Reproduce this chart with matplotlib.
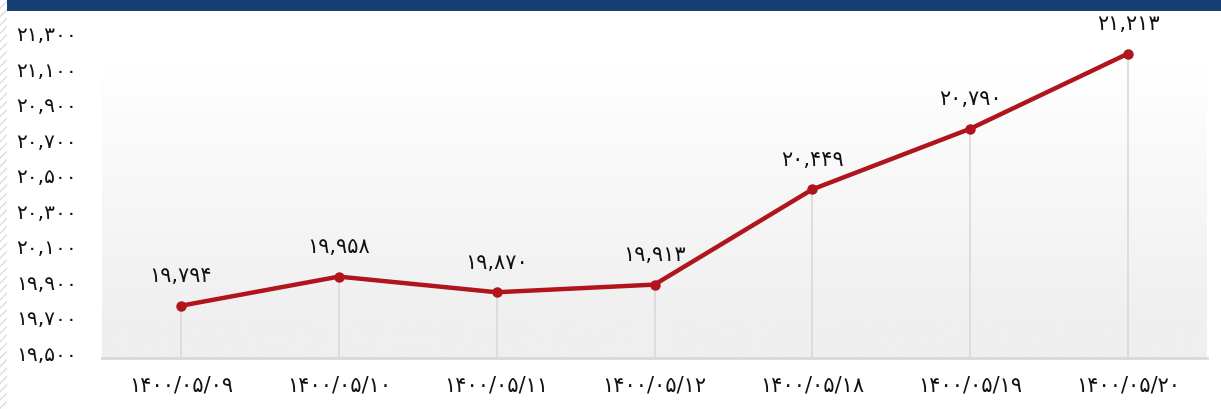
import matplotlib
matplotlib.use("Agg")
import matplotlib.pyplot as plt
import matplotlib.transforms as mtransforms
from matplotlib.patches import Rectangle
import numpy as np

categories = ["1400/05/09", "1400/05/10", "1400/05/11", "1400/05/12",
              "1400/05/18", "1400/05/19", "1400/05/20"]
values = [19794, 19958, 19870, 19913, 20449, 20790, 21213]
yticks = [19500, 19700, 19900, 20100, 20300, 20500, 20700, 20900, 21100, 21300]

FA = str.maketrans("0123456789", "۰۱۲۳۴۵۶۷۸۹")
def fa(s):
    return str(s).translate(FA)

plt.rcParams['font.family'] = ['DejaVu Sans']

W, H = 1221, 410
fig = plt.figure(figsize=(W / 100, H / 100), dpi=100)
fig.patch.set_facecolor('white')

# top band
fig.patches.append(Rectangle((7 / W, 1 - 12 / H), 1, 12 / H, transform=fig.transFigure,
                             facecolor='#173f73', edgecolor='none', zorder=0))
# hatched left strip
fig.patches.append(Rectangle((0, 0), 7 / W, 1, transform=fig.transFigure,
                             facecolor='white', edgecolor='#dcdcdc', hatch='////',
                             linewidth=0, zorder=0))

left, right, bottom, top = 102 / W, 1207 / W, 51 / H, 397 / H
ax = fig.add_axes([left, bottom, right - left, top - bottom])
YMIN, YMAX = 19500, 21447
ax.set_xlim(-0.5, len(categories) - 0.5)

# gradient background (white at top -> light grey at bottom)
g = np.linspace(0, 1, 256)
g = np.clip((g - 0.15) / 0.75, 0, 1)
col_top = np.array([1.0, 1.0, 1.0])
col_bot = np.array([0xef, 0xef, 0xef]) / 255
img = col_top[None, :] * (1 - g[:, None]) + col_bot[None, :] * g[:, None]
img = img[:, None, :]
ax.imshow(img, extent=[-0.5, len(categories) - 0.5, YMIN, YMAX], aspect='auto',
          zorder=0, origin='upper')
ax.set_ylim(YMIN, YMAX)

for s in ['top', 'right', 'left']:
    ax.spines[s].set_visible(False)
ax.spines['bottom'].set_color('#d9d9d9')
ax.spines['bottom'].set_linewidth(2)

x = np.arange(len(categories))
ax.vlines(x, YMIN, values, colors='#d9d9d9', linewidth=1.2, zorder=1)
ax.plot(x, values, color='#b0141c', linewidth=3.2, marker='o', markersize=6.5,
        markerfacecolor='#b0141c', markeredgecolor='#b0141c', zorder=3,
        solid_capstyle='round')

for xi, v in zip(x, values):
    ax.annotate(fa(f"{v:,}"), (xi, v), xytext=(0, 22), textcoords='offset points',
                ha='center', va='center', fontsize=15, color='#111111')

ax.set_yticks(yticks)
ax.set_yticklabels([fa(f"{t:,}") for t in yticks], fontsize=14.5, color='#111111')
ax.set_xticks(x)
ax.set_xticklabels([fa(c) for c in categories], fontsize=15, color='#111111')
ax.tick_params(axis='both', length=0)
ax.tick_params(axis='y', pad=18)
ax.tick_params(axis='x', pad=12)

offset = mtransforms.ScaledTranslation(0, 4 / 72, fig.dpi_scale_trans)
for lab in ax.get_yticklabels():
    lab.set_transform(lab.get_transform() + offset)

fig.savefig('out.png', dpi=100, facecolor='white')
